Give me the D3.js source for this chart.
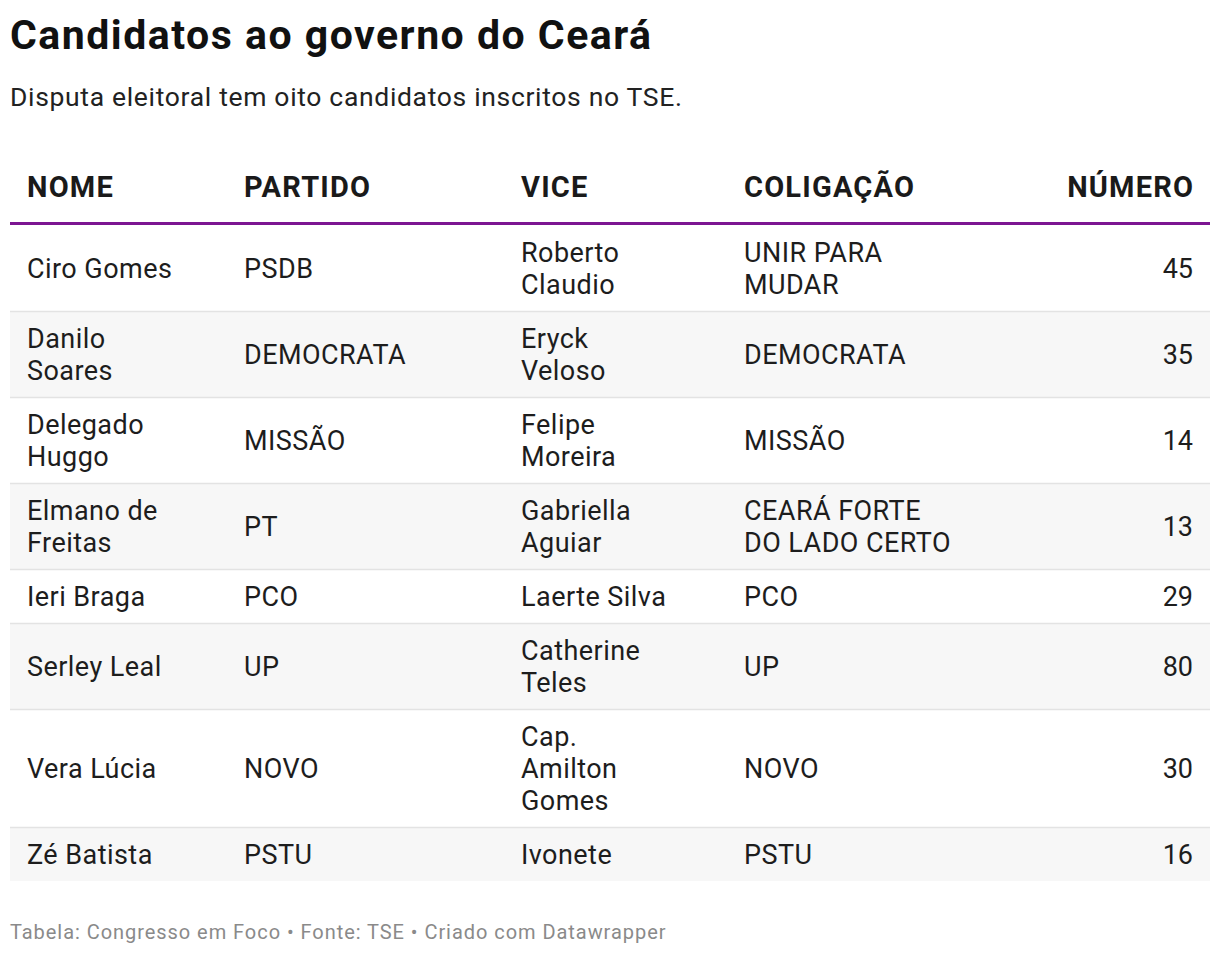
<!DOCTYPE html>
<html>
<head>
<meta charset="utf-8">
<script src="https://cdn.jsdelivr.net/npm/d3@7"></script>
<style>
  body { margin: 0; background: #fff; font-family: Roboto, "Noto Sans", sans-serif; }
  svg text { font-family: Roboto, "Noto Sans", sans-serif; }
</style>
</head>
<body>
<svg id="chart"></svg>
<script>
// -----------------------------
// DATA
// -----------------------------
const columns = ["NOME", "PARTIDO", "VICE", "COLIGAÇÃO", "NÚMERO"];

const nomes = ["Ciro Gomes", "Danilo\nSoares", "Delegado\nHuggo", "Elmano de\nFreitas",
               "Ieri Braga", "Serley Leal", "Vera Lúcia", "Zé Batista"];
const partidos = ["PSDB", "DEMOCRATA", "MISSÃO", "PT", "PCO", "UP", "NOVO", "PSTU"];
const vices = ["Roberto\nClaudio", "Eryck\nVeloso", "Felipe\nMoreira", "Gabriella\nAguiar",
               "Laerte Silva", "Catherine\nTeles", "Cap.\nAmilton\nGomes", "Ivonete"];
const coligacoes = ["UNIR PARA\nMUDAR", "DEMOCRATA", "MISSÃO", "CEARÁ FORTE\nDO LADO CERTO",
                    "PCO", "UP", "NOVO", "PSTU"];
const numeros = [45, 35, 14, 13, 29, 80, 30, 16];

// -----------------------------
// SETUP
// -----------------------------
let width = 1220,
    height = 956;

let svg = d3.select("#chart")
            .attr("width", width)
            .attr("height", height);

const tableLeft = 10, tableRight = 1210;
const headerLineY = 223.5;
const lineH = 32, rowPad = 22;
const headSpacing = 1.2;

// rows
let rows = nomes.map((n, i) => ({
  cells: [n, partidos[i], vices[i], coligacoes[i], String(numeros[i])].map(c => c.split("\n"))
}));
rows.forEach(r => r.lines = d3.max(r.cells, c => c.length));

let heights = rows.map(r => r.lines * lineH + rowPad);
let tops = [0].concat(Array.from(d3.cumsum(heights)));
rows.forEach((r, i) => { r.top = tops[i]; r.h = heights[i]; });

// -----------------------------
// SCALES
// -----------------------------
let xCol = d3.scaleOrdinal()
             .domain(columns)
             .range([27, 244, 521, 744, 1193]);

let yRow = d3.scaleLinear()
             .domain([0, d3.sum(heights)])
             .range([headerLineY + 1.5, headerLineY + 1.5 + d3.sum(heights)]);

// -----------------------------
// TITLE
// -----------------------------
svg.append("text")
   .attr("x", 10)
   .attr("y", 49)
   .text("Candidatos ao governo do Ceará")
   .style("font-size", "41px")
   .style("font-weight", "700")
   .style("letter-spacing", "1.5px")
   .style("fill", "#111");

svg.append("text")
   .attr("x", 10)
   .attr("y", 106)
   .text("Disputa eleitoral tem oito candidatos inscritos no TSE.")
   .style("font-size", "26.5px")
   .style("letter-spacing", "0.67px")
   .style("fill", "#222");

// -----------------------------
// HEADER
// -----------------------------
svg.selectAll(".head")
   .data(columns)
   .enter()
   .append("text")
   .attr("class", "head")
   .attr("x", d => d === "NÚMERO" ? xCol(d) + headSpacing : xCol(d))
   .attr("y", 197)
   .attr("text-anchor", d => d === "NÚMERO" ? "end" : "start")
   .text(d => d)
   .style("font-size", "29px")
   .style("font-weight", "700")
   .style("letter-spacing", headSpacing + "px")
   .style("fill", "#1a1a1a");

// -----------------------------
// ROWS
// -----------------------------
let rowG = svg.selectAll(".row")
              .data(rows)
              .enter()
              .append("g")
              .attr("class", "row");

rowG.append("rect")
    .attr("x", tableLeft)
    .attr("width", tableRight - tableLeft)
    .attr("y", d => yRow(d.top))
    .attr("height", d => d.h)
    .attr("fill", (d, i) => i % 2 ? "#f7f7f7" : "#ffffff");

rowG.filter((d, i) => i > 0)
    .append("line")
    .attr("x1", tableLeft)
    .attr("x2", tableRight)
    .attr("y1", d => yRow(d.top) + 0.5)
    .attr("y2", d => yRow(d.top) + 0.5)
    .attr("stroke", "#e3e3e3")
    .attr("stroke-width", 1.5);

rowG.each(function(r) {
  let g = d3.select(this);
  let mid = yRow(r.top) + r.h / 2;
  r.cells.forEach((lines, ci) => {
    let col = columns[ci];
    let anchorEnd = col === "NÚMERO";
    let t = g.append("text")
             .attr("x", xCol(col))
             .attr("text-anchor", anchorEnd ? "end" : "start")
             .style("font-size", "27px")
             .style("letter-spacing", anchorEnd ? "0px" : "0.45px")
             .style("fill", "#1d1d1d");
    lines.forEach((ln, li) => {
      t.append("tspan")
       .attr("x", xCol(col))
       .attr("y", mid - (lines.length - 1) * lineH / 2 + li * lineH + 10)
       .text(ln);
    });
  });
});

// header rule (purple)
svg.append("line")
   .attr("x1", tableLeft)
   .attr("x2", tableRight)
   .attr("y1", headerLineY)
   .attr("y2", headerLineY)
   .attr("stroke", "#7c1592")
   .attr("stroke-width", 3);

// -----------------------------
// FOOTER
// -----------------------------
svg.append("text")
   .attr("x", 10)
   .attr("y", 939)
   .text("Tabela: Congresso em Foco • Fonte: TSE • Criado com Datawrapper")
   .style("font-size", "20px")
   .style("letter-spacing", "0.95px")
   .style("fill", "#8a8a8a");
</script>
</body>
</html>
